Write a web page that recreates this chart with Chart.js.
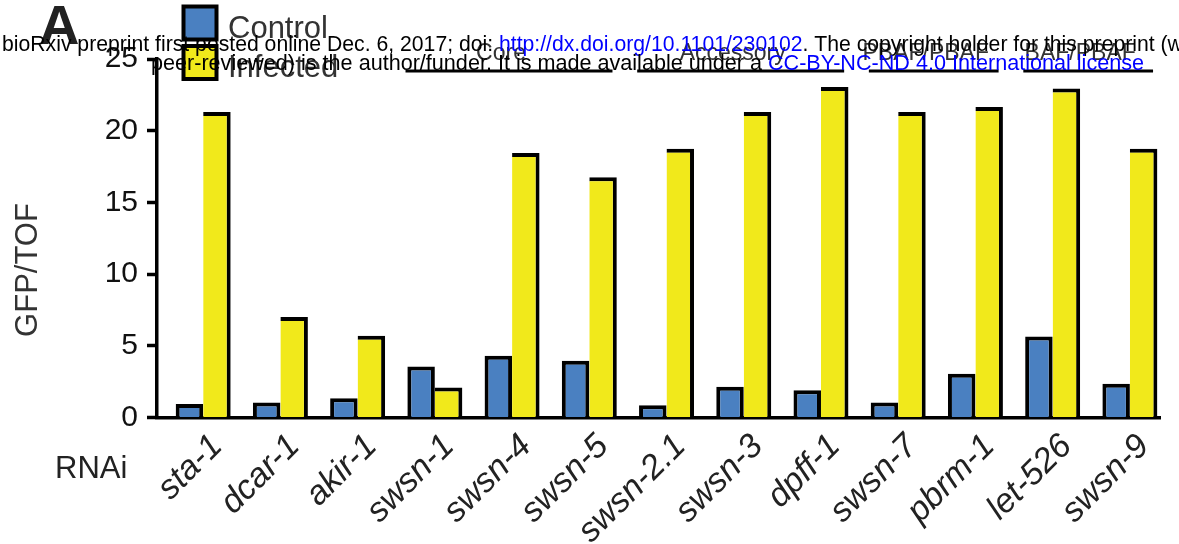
<!DOCTYPE html>
<html>
<head>
<meta charset="utf-8">
<script src="https://cdn.jsdelivr.net/npm/chart.js@4"></script>
<style>
  html, body { margin: 0; padding: 0; background: #fff; }
</style>
</head>
<body>
<canvas id="rnaiChart" width="1179" height="544"></canvas>
<script>
// values
const categories = ['sta-1', 'dcar-1', 'akir-1', 'swsn-1', 'swsn-4', 'swsn-5', 'swsn-2.1', 'swsn-3', 'dpff-1', 'swsn-7', 'pbrm-1', 'let-526', 'swsn-9'];
const controlValues = [0.95, 1.05, 1.35, 3.55, 4.3, 3.95, 0.85, 2.15, 1.9, 1.05, 3.05, 5.65, 2.35];
const infectedValues = [21.3, 7.0, 5.7, 2.1, 18.45, 16.75, 18.75, 21.3, 23.05, 21.3, 21.65, 22.95, 18.75];
const yTicks = [0, 5, 10, 15, 20, 25];

// complex groups drawn above the bars
const groupNames = ['Core', 'Accessory', 'PBAF/PBAF', 'BAF/PBAF'];
const groupFirst = [3, 6, 9, 11];
const groupLast = [5, 8, 10, 12];

const BLUE = '#4a80c1';
const YELLOW = '#f1e91b';
const FONT = '"Liberation Sans", Arial, sans-serif';

function toPoints(values) {
    return values.map((v, i) => ({ x: i, y: v }));
}

// draw text pieces in a row, each with its own colour
function drawRun(ctx, x, y, pieces) {
    pieces.forEach(p => {
        ctx.fillStyle = p[1];
        ctx.fillText(p[0], x, y);
        x += ctx.measureText(p[0]).width;
    });
}

const extras = {
    id: 'extras',
    afterDraw(chart) {
        const ctx = chart.ctx;
        const xs = chart.scales.x;
        ctx.save();
        ctx.textBaseline = 'alphabetic';

        // panel letter
        ctx.fillStyle = '#222';
        ctx.font = 'bold 56px ' + FONT;
        ctx.textAlign = 'left';
        ctx.fillText('A', 39, 44);

        // legend, stacked
        chart.data.datasets.forEach((ds, i) => {
            const top = 6.5 + i * 39.5;
            ctx.fillStyle = ds.backgroundColor;
            ctx.fillRect(183.5, top, 33, 33);
            ctx.lineWidth = 4;
            ctx.strokeStyle = '#000';
            ctx.strokeRect(183.5, top, 33, 33);
            ctx.fillStyle = '#333';
            ctx.font = '31px ' + FONT;
            ctx.fillText(ds.label, 228, top + 31);
        });

        // group brackets
        ctx.font = '23px ' + FONT;
        ctx.textAlign = 'center';
        groupNames.forEach((name, i) => {
            const x1 = xs.getPixelForValue(groupFirst[i] - 0.38);
            const x2 = xs.getPixelForValue(groupLast[i] + 0.3);
            ctx.strokeStyle = '#000';
            ctx.lineWidth = 3;
            ctx.beginPath();
            ctx.moveTo(x1, 71);
            ctx.lineTo(x2, 71);
            ctx.stroke();
            ctx.fillStyle = '#333';
            ctx.fillText(name, (x1 + x2) / 2 - 8, 60);
        });

        // axis titles
        ctx.fillStyle = '#333';
        ctx.font = '31px ' + FONT;
        ctx.save();
        ctx.translate(37, 270);
        ctx.rotate(-Math.PI / 2);
        ctx.textAlign = 'center';
        ctx.fillText('GFP/TOF', 0, 0);
        ctx.restore();

        ctx.fillStyle = '#222';
        ctx.font = '31px ' + FONT;
        ctx.textAlign = 'left';
        ctx.fillText('RNAi', 55, 478);

        // preprint stamp over the figure
        ctx.font = '21.2px ' + FONT;
        drawRun(ctx, 2, 51, [
            ['bioRxiv preprint first posted online Dec. 6, 2017; doi: ', '#000'],
            ['http://dx.doi.org/10.1101/230102', '#0000ff'],
            ['. The copyright holder for this preprint (which was not', '#000']
        ]);
        ctx.font = '21.6px ' + FONT;
        drawRun(ctx, 151, 70, [
            ['peer-reviewed) is the author/funder. It is made available under a ', '#000'],
            ['CC-BY-NC-ND 4.0 International license', '#0000ff']
        ]);
        ctx.restore();
    }
};

new Chart(document.getElementById('rnaiChart'), {
    type: 'bar',
    data: {
        datasets: [{
            label: 'Control',
            data: toPoints(controlValues),
            backgroundColor: BLUE,
            borderColor: '#000',
            borderWidth: { top: 4, left: 4, right: 4, bottom: 0 },
            borderSkipped: false,
            inflateAmount: 0,
            categoryPercentage: 0.712,
            barPercentage: 1
        }, {
            label: 'Infected',
            data: toPoints(infectedValues),
            backgroundColor: YELLOW,
            borderColor: '#000',
            borderWidth: { top: 4, left: 0, right: 4, bottom: 0 },
            borderSkipped: false,
            inflateAmount: 0,
            categoryPercentage: 0.712,
            barPercentage: 1
        }]
    },
    options: {
        responsive: false,
        animation: false,
        layout: { padding: { top: 59, right: 19, left: 0, bottom: 0 } },
        plugins: {
            legend: { display: false },
            tooltip: { enabled: false }
        },
        scales: {
            x: {
                type: 'linear',
                offset: false,
                min: -0.598,
                max: 12.39,
                grid: { display: false, drawTicks: false },
                border: { display: true, width: 3.5, color: '#000' },
                afterBuildTicks: s => { s.ticks = categories.map((c, i) => ({ value: i })); },
                afterFit: s => { s.height = 126.5; },
                ticks: {
                    autoSkip: false,
                    minRotation: 45,
                    maxRotation: 45,
                    padding: 9,
                    labelOffset: 14,
                    color: '#222',
                    font: { family: FONT, size: 34, style: 'italic' },
                    callback: v => categories[v]
                }
            },
            y: {
                min: 0,
                max: 25,
                afterBuildTicks: s => { s.ticks = yTicks.map(v => ({ value: v })); },
                afterFit: s => { s.width = 157; },
                grid: { drawOnChartArea: false, drawTicks: true, tickLength: 10, tickWidth: 3.5, tickColor: '#000' },
                border: { display: true, width: 3.5, color: '#000' },
                ticks: {
                    padding: 9,
                    color: '#111',
                    font: { family: FONT, size: 30 }
                }
            }
        }
    },
    plugins: [extras]
});
</script>
</body>
</html>
